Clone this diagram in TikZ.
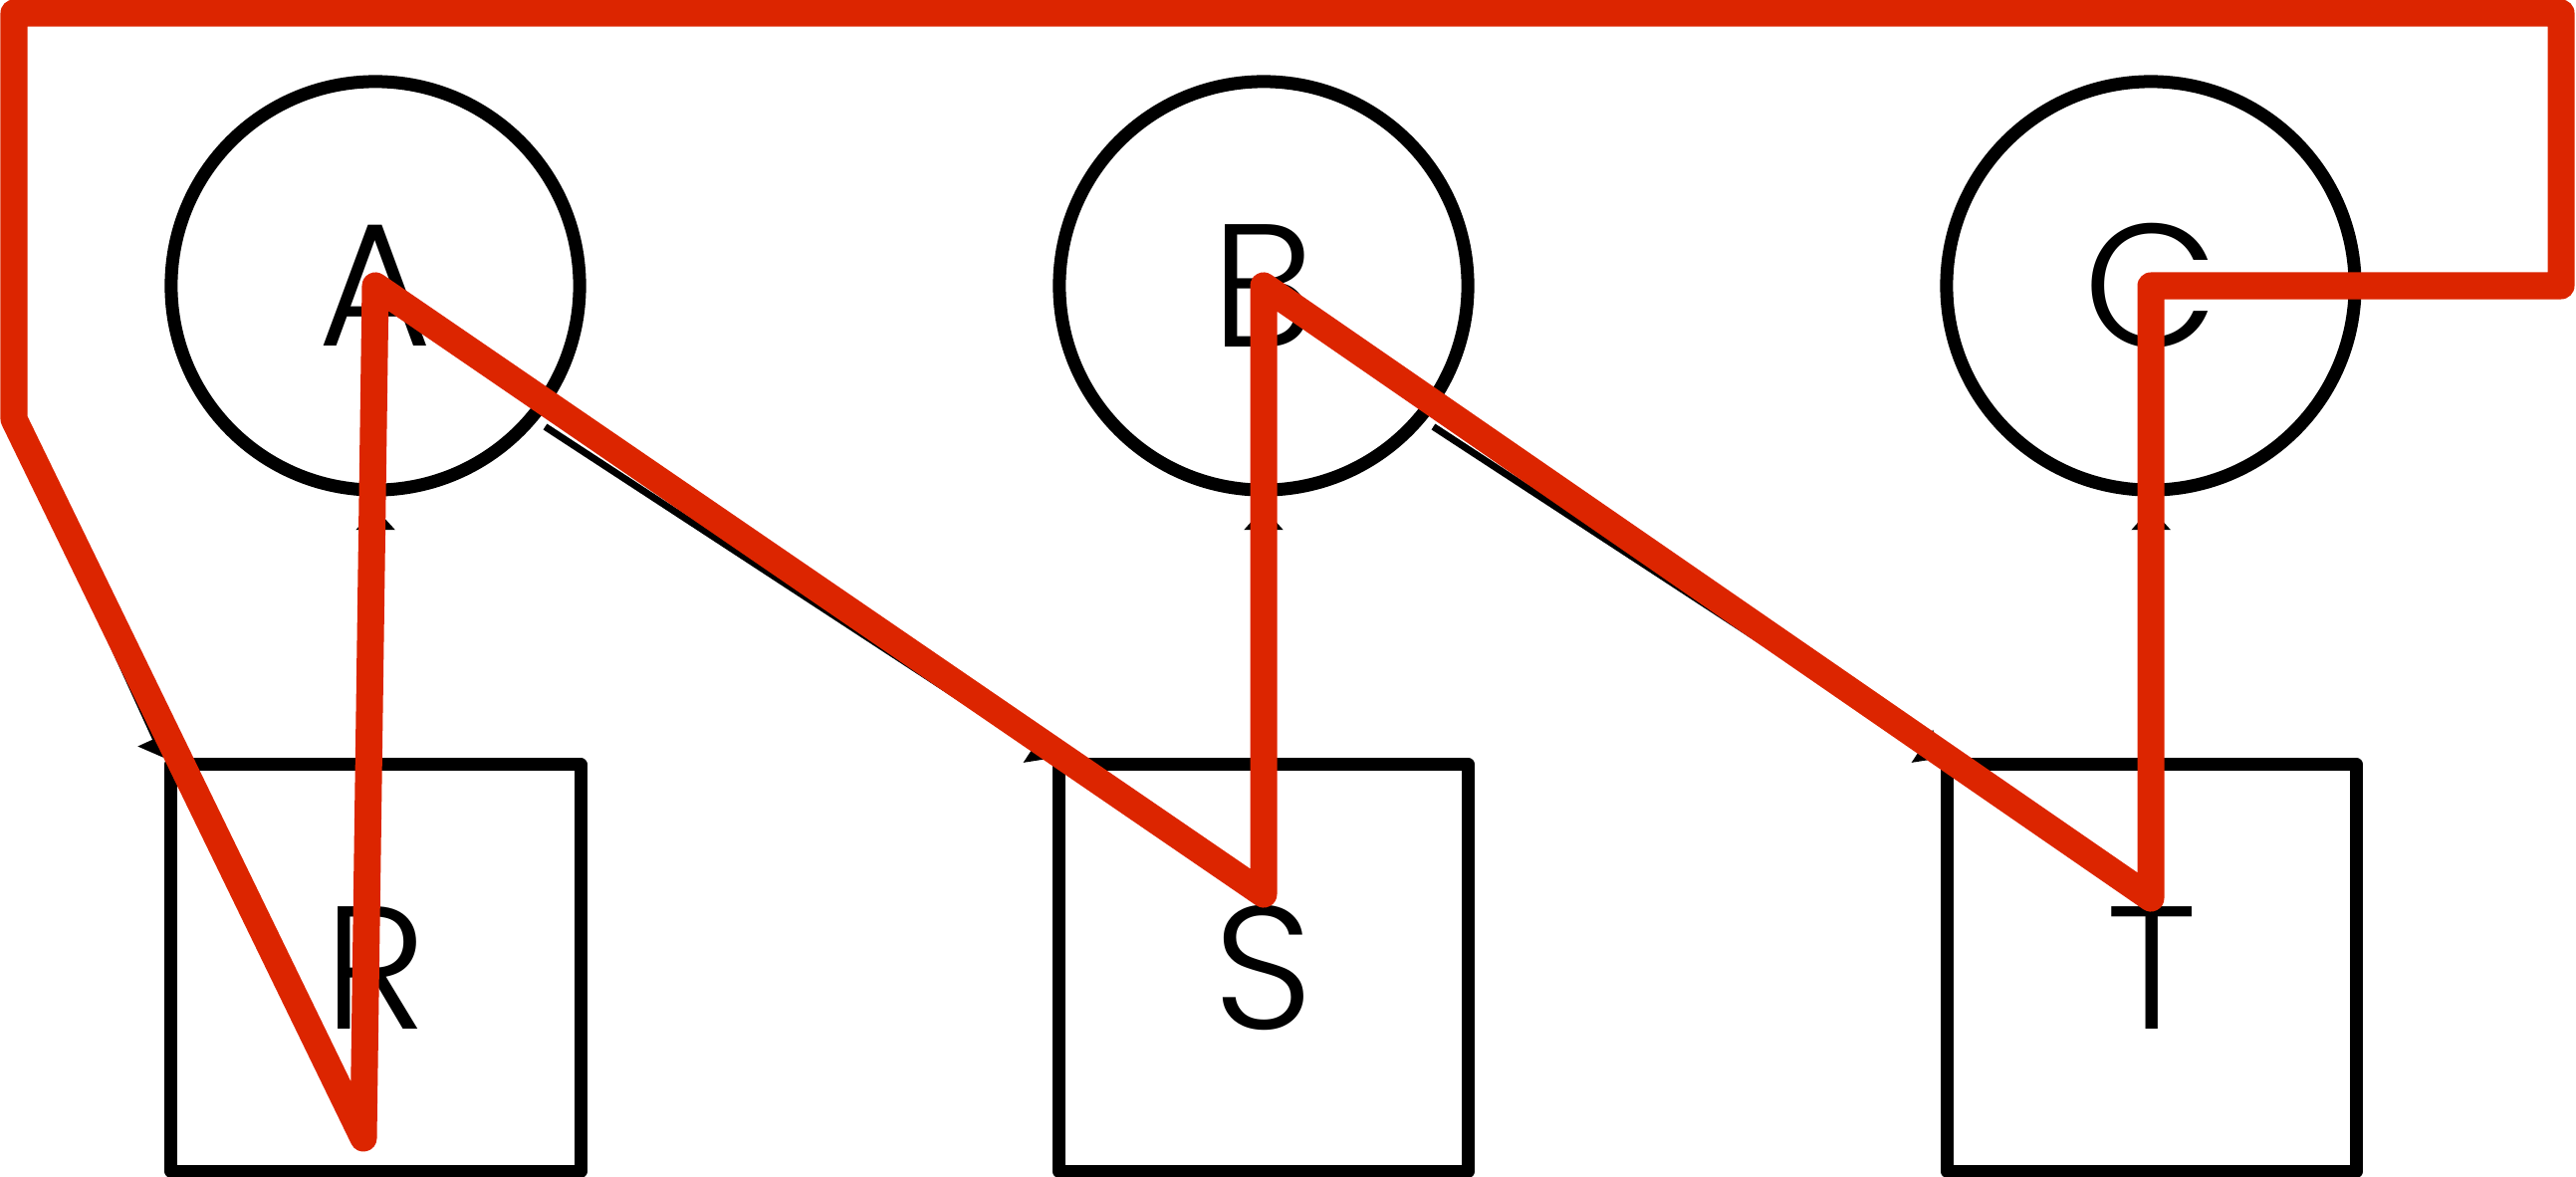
\documentclass[tikz,border=0pt]{standalone}
\usepackage{fontspec}
\setmainfont{Poppins Light}
\usetikzlibrary{arrows.meta}
\definecolor{hl}{RGB}{220,37,0}
\begin{document}
\begin{tikzpicture}[x=0.01cm,y=-0.01cm,
  lbl/.style={font=\fontsize{50}{60}\selectfont},
  circ/.style={lbl,circle,draw,line width=0.13cm,minimum size=4.1cm,inner sep=0pt},
  sq/.style={lbl,rectangle,draw,line width=0.13cm,minimum width=4.11cm,minimum height=4.08cm,inner sep=0pt,line join=round},
  edge/.style={draw,line width=0.07cm,-{Triangle[width=0.38cm,length=0.22cm]}},
  hlpath/.style={draw=hl,line width=0.27cm,line join=round,line cap=round}]
\useasboundingbox (0,0) rectangle (2587,1182);
% nodes
\node[circ] (A) at (377,287) {A};
\node[circ] (B) at (1269,287) {B};
\node[circ] (C) at (2160,287) {C};
\node[sq] (R) at (377.5,972) {R};
\node[sq] (S) at (1269,972) {S};
\node[sq] (T) at (2161,972) {T};
% route coordinates
\coordinate (k1) at (2572,287);
\coordinate (k2) at (2572,13);
\coordinate (k3) at (14,13);
\coordinate (k4) at (10,421);
\coordinate (p1) at (14,421);
\coordinate (p6) at (2160,902);
\coordinate (p8) at (1269,898);
\coordinate (p10) at (365,1143);
% black edges
\draw[edge,shorten >=0.115cm] (R.north) -- (A.south);
\draw[edge,shorten >=0.115cm] (S.north) -- (B.south);
\draw[edge,shorten >=0.115cm] (T.north) -- (C.south);
\draw[edge,shorten <=0.1cm] (A.-40) -- (S.north west);
\draw[edge,shorten <=0.1cm] (B.-40) -- (T.north west);
\draw[edge] (C.east) -- (k1) -- (k2) -- (k3) -- (k4) -- (R.north west);
% red highlight
\draw[hlpath] (p1) -- (k3) -- (k2) -- (k1) -- (C.center) -- (p6) -- (B.center) -- (p8) -- (A.center) -- (p10) -- cycle;
\end{tikzpicture}
\end{document}
